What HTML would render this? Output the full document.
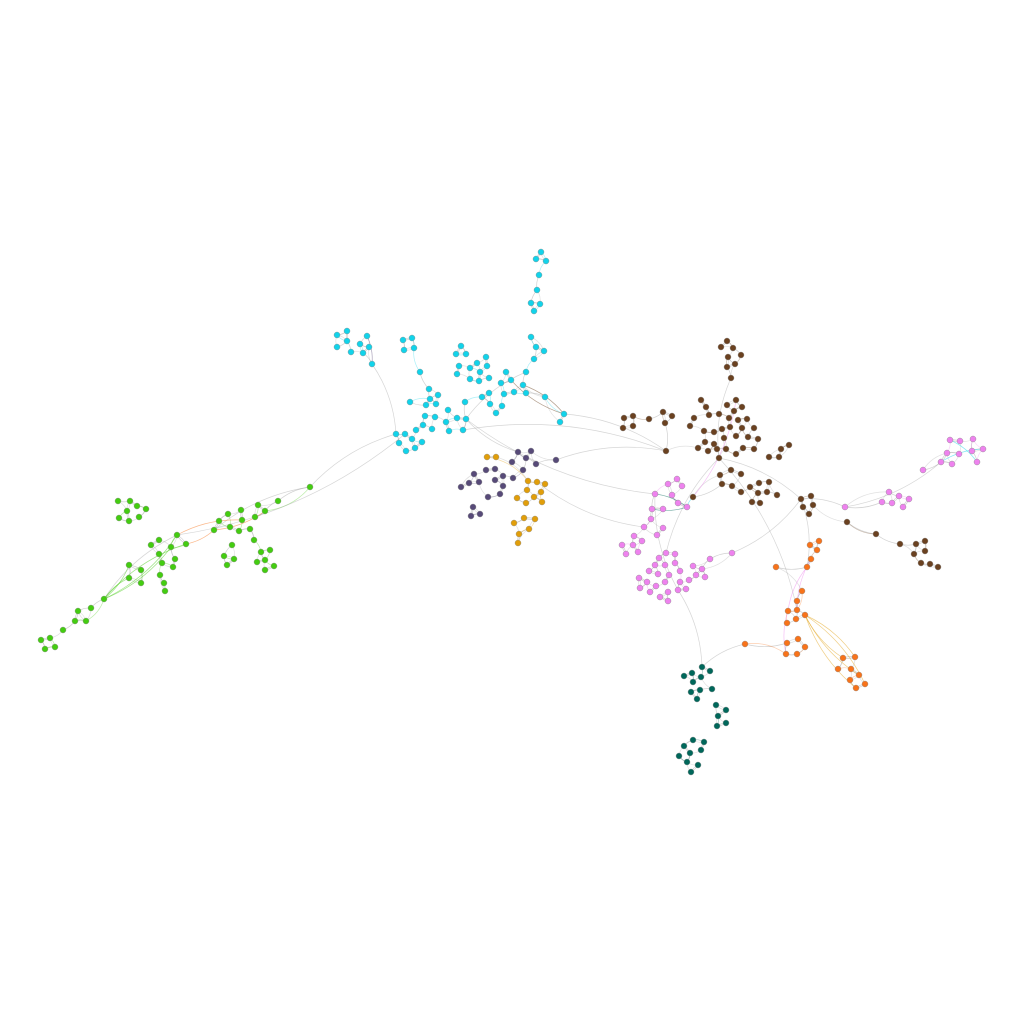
<!DOCTYPE html>
<html><head><meta charset="utf-8"><style>
html,body{margin:0;padding:0;background:#fff;}
svg{display:block;}
</style></head><body>
<svg id="chart" width="1024" height="1024" viewBox="0 0 1024 1024" xmlns="http://www.w3.org/2000/svg">
<rect width="1024" height="1024" fill="#fff"/>
<g id="edges"></g>
<g id="nodes"></g>
</svg>
<script>
const groupNames = ["cyan","purple","amber","brown","violet","orange","teal","green"];
const groupColors = ["#12d3ea","#574a78","#e19e0a","#6a4120","#ee82ee","#f8731a","#00675a","#44cc11"];
const cyanNodes = [[541,252],[536,259],[546,261],[539,275],[537,290],[531,303],[540,304],[534,311],[531,337],[536,347],[544,351],[534,359],[526,372],
[337,335],[347,331],[347,341],[337,347],[351,352],[360,344],[367,336],[369,347],[363,353],[372,364],
[403,340],[412,338],[404,350],[414,348],[420,372],
[461,346],[456,354],[466,354],[459,366],[457,374],[470,368],[477,363],[486,357],[487,366],[480,372],[470,379],[479,381],[489,378],[506,372],[501,383],[511,380],[523,385],[526,393],[514,392],[504,394],[489,393],[482,397],[490,404],[502,406],[496,413],[545,397],[564,414],[560,422],
[429,389],[410,402],[430,399],[438,395],[426,405],[436,404],[448,410],[465,402],[425,416],[435,417],[446,422],[457,418],[466,419],[423,425],[432,429],[416,430],[449,431],[463,430],[396,434],[405,434],[412,439],[399,443],[422,442],[415,448],[406,451]];
const purpleNodes = [[518,452],[531,451],[512,462],[526,458],[556,460],[536,464],[523,470],[486,470],[495,469],[474,474],[503,476],[513,478],[479,482],[469,483],[461,487],[495,480],[503,486],[488,497],[500,494],[473,507],[480,514],[471,516]];
const amberNodes = [[487,457],[496,457],[528,481],[537,482],[545,484],[527,490],[541,492],[517,498],[534,497],[542,502],[526,503],[524,518],[535,519],[514,523],[529,529],[519,534],[518,543]];
const brownNodes = [[727,341],[721,347],[733,348],[741,355],[728,357],[735,364],[727,367],[731,378],
[624,418],[633,416],[623,428],[633,426],[649,419],[663,412],[672,416],[665,423],[694,418],[690,426],[701,400],[706,407],[709,415],[719,414],[727,405],[736,400],[734,411],[742,407],[729,418],[738,420],[747,419],[704,431],[714,432],[722,429],[730,427],[742,428],[754,428],[705,442],[714,444],[724,438],[736,436],[748,437],[758,439],[698,448],[708,451],[717,449],[726,449],[743,448],[754,449],[719,458],[736,454],[666,451],[789,445],[781,449],[769,457],[779,457],
[731,470],[720,475],[741,474],[722,484],[732,486],[741,492],[750,487],[759,483],[769,482],[758,493],[767,492],[777,495],[752,502],[760,503],[693,497],
[801,499],[811,496],[803,507],[813,505],[809,514],[847,522],[876,534],[900,544],[916,544],[925,541],[914,554],[925,551],[921,563],[930,564],[938,567]];
const violetNodes = [[950,440],[960,441],[973,439],[983,449],[947,453],[959,454],[972,451],[941,462],[952,464],[977,462],[923,470],[889,492],[899,496],[882,502],[892,503],[909,499],[903,507],[845,507],
[677,479],[668,484],[682,486],[655,494],[672,495],[678,503],[687,507],[652,509],[663,509],[651,519],[644,527],[663,528],[634,536],[657,535],[642,541],[622,545],[633,545],[626,554],[638,552],[732,553],
[666,553],[675,554],[659,558],[710,559],[655,565],[665,565],[675,563],[693,566],[702,569],[649,571],[680,571],[658,574],[669,575],[696,575],[639,578],[705,577],[647,582],[656,586],[665,582],[680,582],[689,580],[640,588],[650,592],[668,592],[678,590],[686,589],[660,597],[668,601]];
const orangeNodes = [[810,545],[819,541],[817,550],[811,559],[807,567],[776,567],[802,591],[797,601],[788,611],[797,610],[805,615],[796,619],[787,623],[798,639],[787,643],[805,647],[786,654],[797,654],[745,644],[843,658],[855,657],[838,669],[851,669],[859,675],[850,680],[865,684],[856,688]];
const tealNodes = [[702,667],[710,671],[684,676],[692,673],[701,677],[693,682],[691,692],[700,690],[712,689],[697,699],[716,705],[726,710],[718,716],[726,723],[717,726],[693,740],[704,742],[684,746],[690,753],[701,750],[679,756],[687,762],[698,765],[691,772]];
const greenNodes = [[310,487],[118,501],[130,501],[137,506],[146,509],[127,511],[119,518],[129,521],[139,517],[258,505],[278,501],[241,510],[228,514],[265,511],[219,521],[242,520],[255,517],[214,530],[230,527],[239,531],[250,529],[254,540],[232,545],[224,556],[234,559],[227,565],[261,552],[270,550],[265,560],[257,562],[274,566],[265,570],
[177,535],[186,544],[159,540],[151,545],[171,547],[159,554],[175,559],[162,563],[173,567],[129,565],[141,570],[129,578],[141,583],[160,575],[164,583],[165,591],[104,599],[91,608],[78,611],[75,621],[86,621],[63,630],[50,638],[41,640],[55,647],[45,649]];
const groupNodes = [cyanNodes,purpleNodes,amberNodes,brownNodes,violetNodes,orangeNodes,tealNodes,greenNodes];
// long-range links: [groupA, nodeIndexA, groupB, nodeIndexB, colourGroup(-1 = grey)]
const longLinks = [[7,0,0,74,-1],[7,32,0,75,-1],[7,17,7,0,-1],[0,68,4,21,-1],[0,73,3,49,-1],[2,3,4,28,-1],[3,47,5,9,-1],[3,47,4,38,-1],[4,62,6,0,-1],[5,18,6,0,-1],[3,69,4,17,-1],[4,17,4,7,-1],[0,54,3,49,-1],[4,37,3,69,-1],[0,22,0,74,-1],[0,12,0,68,-1],[1,4,3,49,-1],[0,68,1,0,-1],[3,47,3,69,-1],[3,7,3,47,-1],[4,62,4,21,-1],[5,4,3,69,-1],[7,48,7,32,-1],
[5,10,5,19,2],[5,10,5,20,2],[5,10,5,23,2],[5,10,5,25,2],[5,10,5,26,2],[5,8,5,4,4],[5,8,5,16,4],[5,9,5,3,4],
[7,48,7,32,7],[7,48,7,33,7],[7,48,7,41,7],[7,48,7,43,7],[7,48,7,36,7],[7,17,7,33,5],[7,17,7,13,5],[7,32,7,15,5],
[0,54,0,44,3],[0,54,0,43,3],[3,68,3,23,4],[4,24,3,68,0],[0,22,0,19,1],[4,0,4,9,0],[4,3,4,7,0],[4,21,4,24,6],[4,25,4,24,6]];

const NS="http://www.w3.org/2000/svg";
const eg=document.getElementById('edges'), ng=document.getElementById('nodes');
function curve(a,b,bend){
  const mx=(a[0]+b[0])/2, my=(a[1]+b[1])/2, dx=b[0]-a[0], dy=b[1]-a[1];
  return `M${a[0]},${a[1]} Q${mx-dy*bend},${my+dx*bend} ${b[0]},${b[1]}`;
}
function addEdge(a,b,col,op,bend){
  const p=document.createElementNS(NS,'path');
  p.setAttribute('d',curve(a,b,bend));
  p.setAttribute('fill','none');p.setAttribute('stroke',col);
  p.setAttribute('stroke-width','0.7');p.setAttribute('stroke-opacity',op);
  
  
  eg.appendChild(p);
}
groupNodes.forEach((nodes,gi)=>{
  nodes.forEach((n,i)=>{
    const d=nodes.map((m,j)=>[j,j===i?1e9:Math.hypot(m[0]-n[0],m[1]-n[1])]).sort((p,q)=>p[1]-q[1]);
    addEdge(n,nodes[d[0][0]],'#999',0.45,0.15);
    if(d[1]) addEdge(n,nodes[d[1][0]], i%3===0?groupColors[gi]:'#aaa',0.35,-0.2);
  });
});
longLinks.forEach((l,k)=>{
  const col=l[4]<0?'#999':groupColors[l[4]];
  addEdge(groupNodes[l[0]][l[1]],groupNodes[l[2]][l[3]],col,l[4]<0?0.4:0.5,(k%2?0.14:-0.14));
});
groupNodes.forEach((nodes,gi)=>{
  nodes.forEach((n)=>{
    const c=document.createElementNS(NS,'circle');
    c.setAttribute('cx',n[0]);c.setAttribute('cy',n[1]);c.setAttribute('r','3');
    c.setAttribute('fill',groupColors[gi]);c.setAttribute('stroke','#888');c.setAttribute('stroke-width','0.4');
    
    
    ng.appendChild(c);
  });
});
</script>
</body></html>
